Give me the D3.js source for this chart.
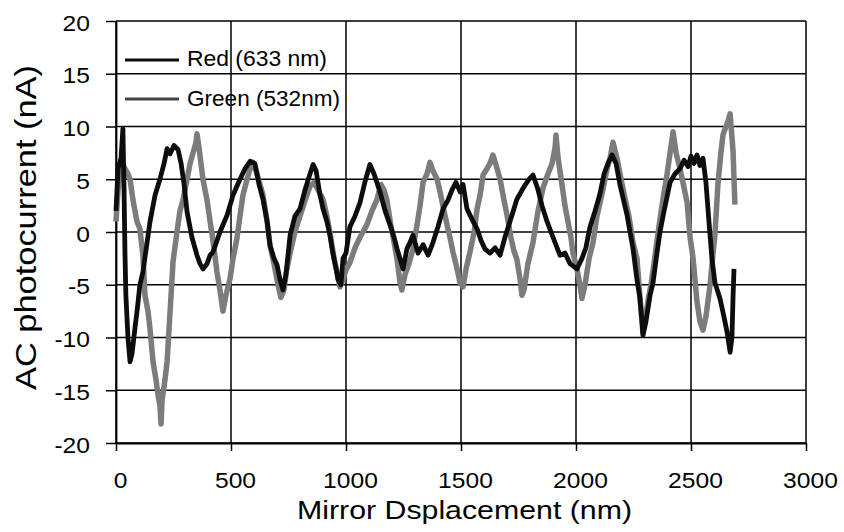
<!DOCTYPE html>
<html>
<head>
<meta charset="utf-8">
<script src="https://cdn.jsdelivr.net/npm/d3@7/dist/d3.min.js"></script>
<style>
  html, body { margin: 0; padding: 0; background: #fff; }
  svg { display: block; }
  text { font-family: "Liberation Sans", Arial, sans-serif; fill: #000; }
</style>
</head>
<body>
<svg id="chart" width="844" height="532"></svg>
<script>
// ---- data ----
const xTicks = [0, 500, 1000, 1500, 2000, 2500, 3000];
const yTicks = [-20, -15, -10, -5, 0, 5, 10, 15, 20];

const seriesNames = ["Red (633 nm)", "Green (532nm)"];

// Red (633 nm): mirror displacement (nm) and AC photocurrent (nA)
const redX = [0, 9, 22, 30, 35, 39, 43, 52, 61, 70, 83, 91, 104, 117, 135, 148, 170, 191, 209, 222,
  235, 252, 270, 283, 296, 309, 330, 352, 365, 378, 396, 409, 422, 452, 483, 509, 539, 561, 583, 604,
  622, 639, 657, 670, 687, 700, 713, 726, 739, 757, 778, 800, 822, 839, 857, 870, 887, 900, 917, 930,
  943, 957, 965, 978, 987, 1000, 1017, 1039, 1061, 1083, 1104, 1122, 1148, 1170, 1191, 1209, 1222, 1248, 1265, 1278,
  1291, 1313, 1335, 1357, 1378, 1400, 1422, 1443, 1461, 1478, 1496, 1509, 1526, 1548, 1570, 1587, 1604, 1626, 1648, 1670,
  1691, 1713, 1743, 1774, 1796, 1813, 1835, 1852, 1874, 1900, 1930, 1952, 1974, 2004, 2026, 2043, 2061, 2083, 2104, 2122,
  2139, 2157, 2174, 2191, 2209, 2222, 2235, 2248, 2265, 2278, 2287, 2291, 2304, 2322, 2335, 2352, 2365, 2383, 2409, 2430,
  2452, 2470, 2487, 2500, 2513, 2526, 2539, 2552, 2565, 2578, 2591, 2604, 2626, 2643, 2657, 2670, 2678, 2683, 2687];
const redY = [2, 6, 7, 9.8, 4, -2, -6, -10, -12.3, -11.5, -9, -7.6, -5, -3.8, -1, 1, 3.5, 5, 6.5, 7.9,
  7.4, 8.2, 7.8, 6.5, 4.5, 1.9, -0.5, -2.2, -3, -3.5, -3, -2.2, -1.9, 0, 1.6, 3.5, 5, 6, 6.7, 6.5,
  4.5, 3.1, 1, -1.3, -2.5, -3.1, -4.5, -5.5, -4, -0.3, 1.5, 2.2, 4, 5.2, 6.4, 5.8, 3.5, 2.2, 1, -0.3,
  -2, -3.5, -4.5, -5, -2.5, -2, 0.5, 1.5, 2.8, 4.8, 6.4, 5.5, 3.8, 2, 0.7, -0.5, -1.6, -3.5, -1.6, -1,
  -0.3, -2, -1.2, -2.2, -1, 0.5, 2.2, 3, 4, 4.7, 3.8, 4.5, 2.2, 1.2, 0.3, -0.8, -1.6, -2, -1.5, -2.2,
  -0.5, 1, 3.1, 4.3, 5, 5.4, 4, 2.5, 1, -0.5, -2.2, -2, -3, -3.5, -2.5, -1.5, 0.5, 2, 3.6, 5.5,
  6.5, 7.3, 6.5, 4.5, 2.8, 1.6, 0, -1.6, -4.5, -6.3, -8.5, -9.8, -8.5, -6, -4.8, -2, 0, 2, 4.7, 5.5,
  6, 6.8, 6.2, 7.2, 6.5, 7.3, 6.3, 7, 4.7, 1, -2.5, -4.8, -6.3, -8, -9.5, -11.4, -10, -6, -3.5];

// Green (532nm)
const greenX = [0, 9, 17, 26, 39, 52, 61, 74, 91, 104, 117, 126, 139, 148, 161, 174, 183, 191, 196, 200,
  213, 222, 235, 248, 265, 278, 291, 309, 322, 335, 348, 352, 361, 378, 396, 409, 426, 439, 452, 465,
  478, 496, 509, 526, 539, 552, 570, 583, 596, 613, 626, 639, 657, 670, 687, 704, 717, 730, 743, 757,
  778, 800, 822, 843, 861, 878, 900, 917, 930, 948, 961, 974, 987, 1000, 1017, 1039, 1061, 1091, 1113, 1135,
  1152, 1165, 1178, 1196, 1209, 1222, 1235, 1243, 1257, 1274, 1291, 1309, 1322, 1335, 1352, 1365, 1378, 1396, 1409, 1426,
  1439, 1452, 1465, 1483, 1496, 1509, 1522, 1539, 1557, 1570, 1583, 1596, 1613, 1626, 1639, 1657, 1670, 1687, 1700, 1717,
  1730, 1743, 1757, 1765, 1774, 1791, 1813, 1835, 1857, 1878, 1896, 1909, 1913, 1922, 1939, 1952, 1965, 1978, 1987, 2004,
  2017, 2026, 2039, 2057, 2074, 2091, 2117, 2135, 2148, 2161, 2178, 2196, 2213, 2230, 2248, 2265, 2274, 2283, 2291, 2300,
  2313, 2326, 2339, 2357, 2378, 2396, 2409, 2422, 2435, 2452, 2465, 2483, 2496, 2509, 2526, 2539, 2552, 2565, 2583, 2596,
  2604, 2617, 2630, 2639, 2652, 2661, 2670, 2678, 2683, 2687, 2691];
const greenY = [1, 4, 5.5, 6.5, 6, 5.5, 5, 3, 1, 0.3, -2.2, -6, -7.5, -9.2, -12.3, -14, -15.5, -16.5, -18.2, -16,
  -14, -12.3, -7.6, -2.8, 0, 2, 3, 5, 6.5, 7.5, 8.5, 9.3, 8, 5, 3, 1, -1.5, -3.8, -5.5, -7.5,
  -6, -4.4, -2.5, -0.6, 1.5, 3.5, 5, 6, 6.6, 5.5, 4.5, 3.5, 1, -1.3, -3, -5, -6.2, -5.5, -3.5, -2,
  0, 1.5, 3, 4.3, 4.7, 4, 3.1, 1.5, 0, -2.5, -3.8, -5.2, -4.5, -3.6, -2.9, -1.5, -0.5, 0.7, 2, 3.1,
  4.5, 4, 3, 0.5, -1, -2.6, -4.8, -5.5, -4, -3, -1.6, 0.7, 2.5, 4.7, 5.5, 6.6, 5.8, 5, 3.8, 2,
  0.7, -0.5, -1.9, -3.5, -4.8, -5.2, -3.5, -1.9, 0, 2.2, 3.5, 5.4, 6, 6.5, 7.3, 6, 5, 3, 1.6, -0.5,
  -1.8, -2.6, -4.5, -6, -5.5, -3, -1, 2, 4.2, 5.5, 6.5, 8, 9.2, 7, 4.5, 2.5, 1, -0.5, -2, -3.5,
  -5, -6.3, -5, -2.5, -1, 1.5, 4, 6, 7, 8.5, 7, 5, 3.2, 1.5, -1, -2.5, -5, -7.5, -9.5, -8.5,
  -6.5, -5, -3, 0, 3.1, 5.5, 7.5, 9.5, 7.5, 6, 4.7, 2.8, -0.5, -2.5, -6.6, -8.5, -9.3, -8, -5, -2,
  -0.3, 4.5, 7.5, 9.2, 10, 10.5, 11.2, 9, 7.6, 5, 2.6];

const xTitle = "Mirror Dsplacement (nm)";
const yTitle = "AC photocurrent (nA)";

// ---- drawing ----
const svg = d3.select("#chart");
const x = d3.scaleLinear().domain([0, 3000]).range([116, 806]);
const y = d3.scaleLinear().domain([-20, 20]).range([443, 21]);

const redColor = "#0d0d0d";
const greenColor = "#7c7c7c";

// gridlines
const grid = svg.append("g").attr("stroke", "#000").attr("stroke-width", 1.5);
grid.selectAll("line.h").data(yTicks).join("line")
  .attr("class", "h")
  .attr("x1", x(0)).attr("x2", x(3000))
  .attr("y1", d => y(d)).attr("y2", d => y(d));
grid.selectAll("line.v").data(xTicks).join("line")
  .attr("class", "v")
  .attr("x1", d => x(d)).attr("x2", d => x(d))
  .attr("y1", y(20)).attr("y2", y(-20));

// axes
const fmt = d => String(d);
const yAxis = svg.append("g").attr("transform", `translate(${x(0)},0)`)
  .call(d3.axisLeft(y).tickValues(yTicks).tickSize(10).tickSizeOuter(0).tickFormat(fmt));
yAxis.select(".domain").attr("stroke", "#000").attr("stroke-width", 1.8);
yAxis.selectAll(".tick line").attr("stroke", "#000").attr("stroke-width", 1.5);
yAxis.selectAll(".tick text")
  .attr("x", 0).attr("dy", "0.42em")
  .attr("transform", "translate(-26,0) scale(1.12,1)")
  .style("font-size", "22px")
  .style("font-family", '"Liberation Sans", Arial, sans-serif')
  .attr("fill", "#000");

const xAxis = svg.append("g").attr("transform", `translate(0,${y(-20)})`)
  .call(d3.axisBottom(x).tickValues(xTicks).tickSize(8).tickSizeOuter(0).tickFormat(fmt));
xAxis.select(".domain").attr("stroke", "#000").attr("stroke-width", 1.8);
xAxis.selectAll(".tick line").attr("stroke", "#000").attr("stroke-width", 1.5);
xAxis.selectAll(".tick text")
  .attr("y", 0).attr("dy", 0)
  .attr("transform", "translate(4,45) scale(1.12,1)")
  .style("font-size", "22px")
  .style("font-family", '"Liberation Sans", Arial, sans-serif')
  .attr("fill", "#000");

// series
const line = d3.line().x(d => x(d[0])).y(d => y(d[1]));
const greenData = greenX.map((v, i) => [v, greenY[i]]);
const redData = redX.map((v, i) => [v, redY[i]]);

svg.append("path").datum(greenData)
  .attr("d", line).attr("fill", "none")
  .attr("stroke", greenColor).attr("stroke-width", 5.5)
  .attr("stroke-linejoin", "round");
svg.append("path").datum(redData)
  .attr("d", line).attr("fill", "none")
  .attr("stroke", redColor).attr("stroke-width", 4.8)
  .attr("stroke-linejoin", "round");

// legend
const legend = svg.append("g");
const legendRows = [
  { name: seriesNames[0], color: redColor, ly: 60, ty: 66, len: 140 },
  { name: seriesNames[1], color: "#444", ly: 99, ty: 106, len: 153 }
];
legendRows.forEach(r => {
  legend.append("line").attr("x1", 125).attr("x2", 179)
    .attr("y1", r.ly).attr("y2", r.ly)
    .attr("stroke", r.color).attr("stroke-width", 3);
  legend.append("text").attr("x", 187).attr("y", r.ty)
    .attr("textLength", r.len).attr("lengthAdjust", "spacingAndGlyphs")
    .style("font-size", "22px").text(r.name);
});

// axis titles
svg.append("text")
  .attr("x", 297).attr("y", 519)
  .attr("textLength", 335).attr("lengthAdjust", "spacingAndGlyphs")
  .style("font-size", "25px").text(xTitle);

svg.append("text")
  .attr("transform", "translate(36,390) rotate(-90)")
  .attr("x", 0).attr("y", 0)
  .attr("textLength", 325).attr("lengthAdjust", "spacingAndGlyphs")
  .style("font-size", "29px").text(yTitle);
</script>
</body>
</html>
